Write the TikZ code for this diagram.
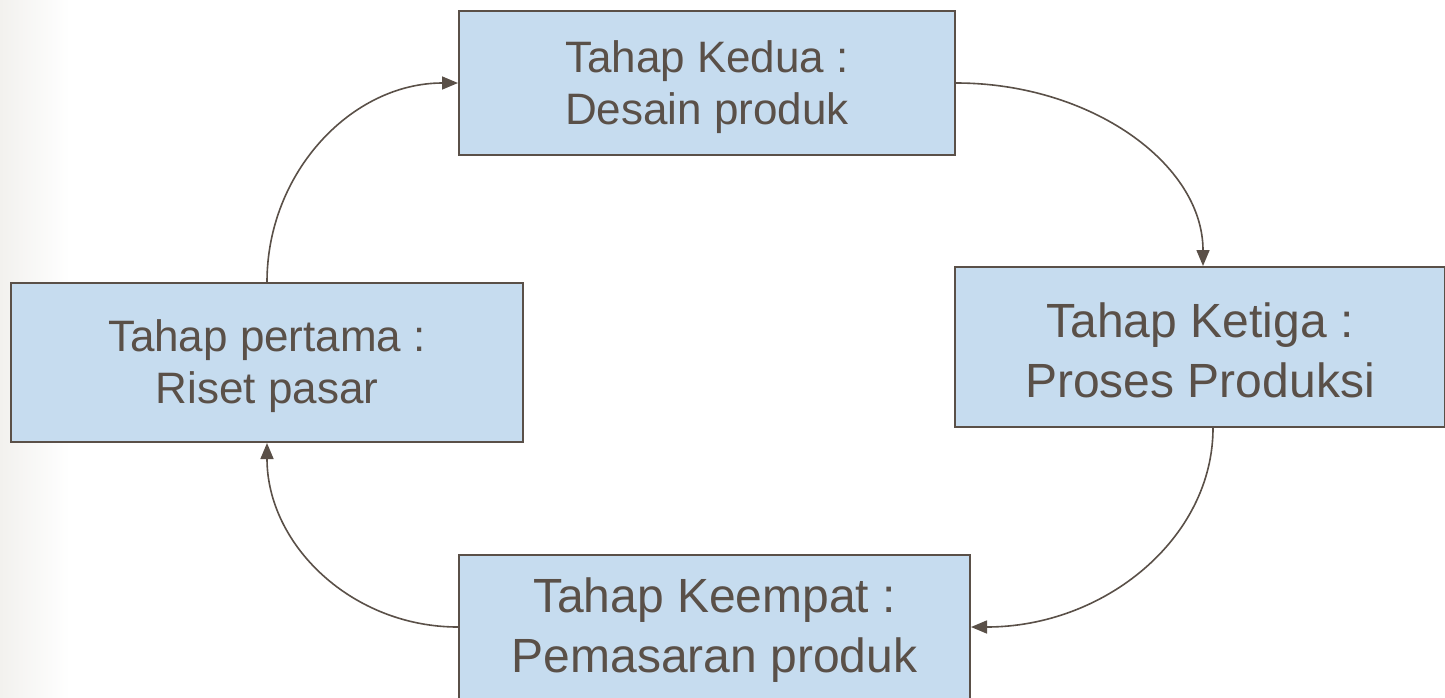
\documentclass[tikz,border=0pt]{standalone}
\usepackage{fontspec}
\setmainfont{Liberation Sans}
\usetikzlibrary{arrows.meta}
\definecolor{ink}{HTML}{5A5048}
\definecolor{boxfill}{HTML}{C6DCEF}
\definecolor{bgl}{HTML}{F2F1EE}
\begin{document}
\begin{tikzpicture}[x=1pt,y=-1pt,
  stage/.style={draw=ink, line width=2pt, fill=boxfill, inner sep=0pt},
  label text/.style={text=ink, align=center, inner sep=0pt},
  smalltxt/.style={font=\fontsize{44}{52}\selectfont},
  bigtxt/.style={font=\fontsize{48}{60}\selectfont},
  flow/.style={draw=ink, line width=1.6pt, -{Triangle[length=16pt,width=13pt]}}]
\useasboundingbox (0,0) rectangle (1445,697);
\fill[white] (0,0) rectangle (1445,697);
\shade[left color=bgl,right color=white] (0,0) rectangle (70,697);

\node[stage, minimum width=496pt, minimum height=144pt] (T) at (707,83) {};
\node[stage, minimum width=490pt, minimum height=160pt] (R) at (1200,347) {};
\node[stage, minimum width=512pt, minimum height=159pt] (L) at (267,362.5) {};
\node[stage, minimum width=511pt, minimum height=144pt] (B) at (714.5,627) {};

\node[label text, smalltxt] (Tt) at ([yshift=-4pt]T.center) {Tahap Kedua :\\Desain produk};
\node[label text, bigtxt] (Rt) at ([yshift=-3pt]R.center) {Tahap Ketiga :\\Proses Produksi};
\node[label text, smalltxt] (Lt) at ([yshift=-4pt]L.center) {Tahap pertama :\\Riset pasar};
\node[label text, bigtxt] (Bt) at ([yshift=-3pt]B.center) {Tahap Keempat :\\Pemasaran produk};

\draw[flow] (L.north) .. controls +(0,-110) and +(-106,0) .. (T.west);
\draw[flow] (T.east) .. controls +(135,0) and +(0,-102) .. ([xshift=3pt]R.north);
\draw[flow] ([xshift=13pt]R.south) .. controls +(0,110) and +(134,0) .. (B.east);
\draw[flow] (B.west) .. controls +(-106,0) and +(0,102) .. (L.south);
\end{tikzpicture}
\end{document}
